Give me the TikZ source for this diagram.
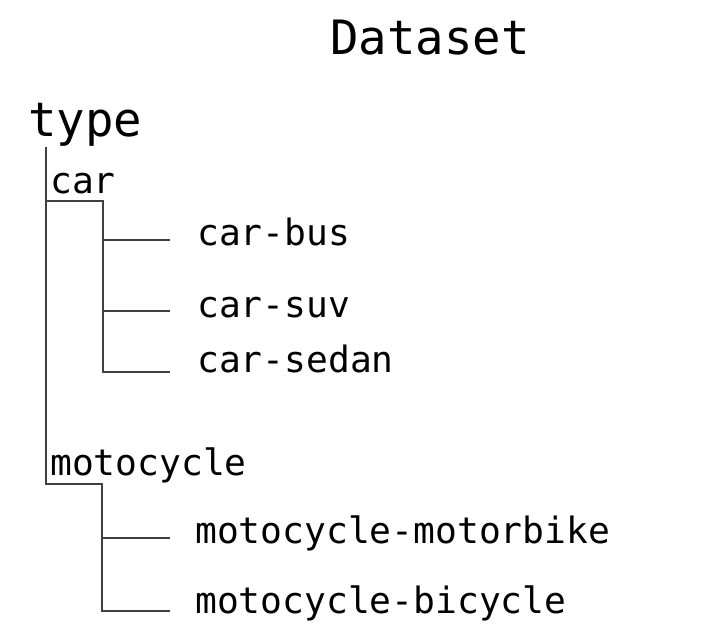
\documentclass[tikz,border=0pt]{standalone}
\usepackage{fontspec}
\newfontfamily\treefont{DejaVu Sans Mono}

\begin{document}
\begin{tikzpicture}[x=0.75pt,y=0.75pt,yscale=-1,xscale=1,
  bigtext/.style={inner sep=0pt,font=\treefont\fontsize{35.5pt}{40pt}\selectfont},
  leaftext/.style={inner sep=0pt,anchor=base west,font=\treefont\fontsize{27.2pt}{30pt}\selectfont},
  branch/.style={draw=black!75,line width=0.9pt}]
\useasboundingbox (0,0) rectangle (702,632);

% Text Node
\draw (430,54) node [bigtext,anchor=base] (dataset) {Dataset};
% Text Node
\draw (28,136) node [bigtext,anchor=base west] (type) {type};
% Text Node
\draw (50,193) node [leaftext] (car) {car};
% Text Node
\draw (197,245) node [leaftext] (carbus) {car-bus};
% Text Node
\draw (197,317) node [leaftext] (carsuv) {car-suv};
% Text Node
\draw (197,372) node [leaftext] (carsedan) {car-sedan};
% Text Node
\draw (50,475) node [leaftext] (moto) {motocycle};
% Text Node
\draw (195,543) node [leaftext] (motobike) {motocycle-motorbike};
% Text Node
\draw (195,613) node [leaftext] (motobicycle) {motocycle-bicycle};

%Joints
\coordinate (root) at (46,147);
\coordinate (carjoint) at (46,201);
\coordinate (motojoint) at (46,484);
\coordinate (carfork) at (103,201);
\coordinate (motofork) at (102,484);
\coordinate (busend) at (170,240);
\coordinate (suvend) at (170,311);
\coordinate (sedanend) at (170,372);
\coordinate (bikeend) at (170,538);
\coordinate (bicycleend) at (170,611);

%Straight Lines
\draw [branch] (root) -- (motojoint) -- (motofork) |- (bicycleend) ;
\draw [branch] (carjoint) -- (carfork) |- (sedanend) ;
\draw [branch] (carfork |- busend) -- (busend) ;
\draw [branch] (carfork |- suvend) -- (suvend) ;
\draw [branch] (motofork |- bikeend) -- (bikeend) ;

\end{tikzpicture}
\end{document}
